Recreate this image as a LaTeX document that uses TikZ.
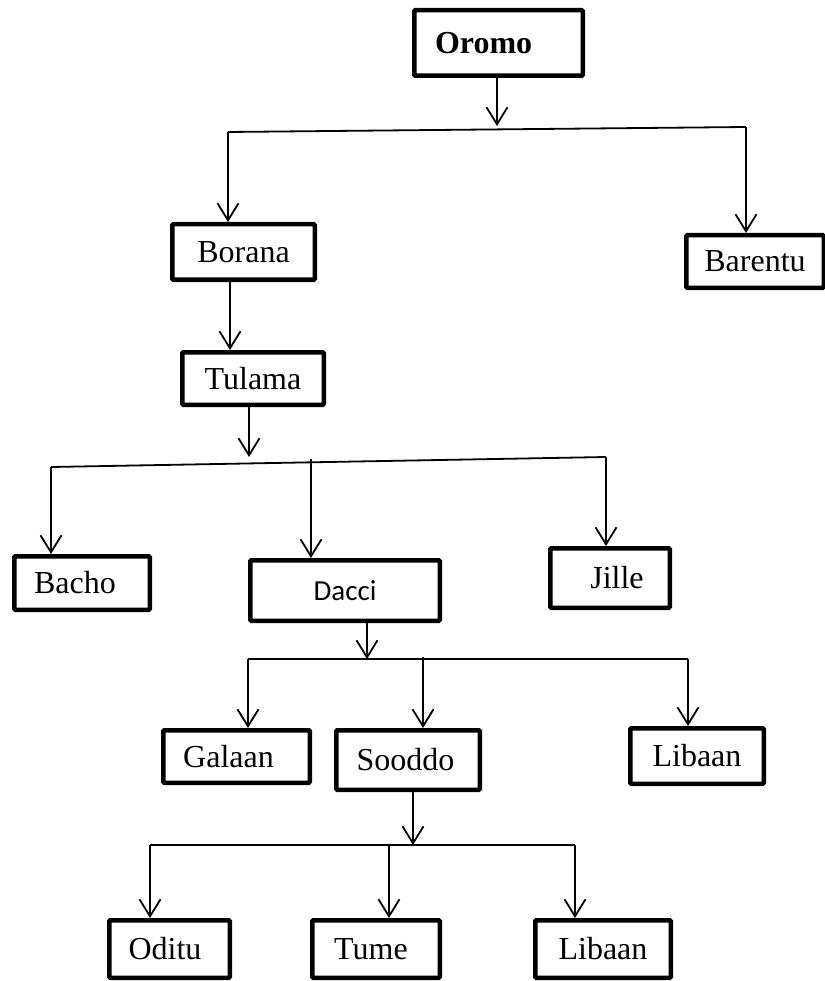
\documentclass[tikz,border=0pt]{standalone}
\usepackage{fontspec}
\setmainfont{Liberation Serif}
\newfontfamily\calfont{Carlito}
\usetikzlibrary{arrows.meta}
\begin{document}
\begin{tikzpicture}[x=1pt,y=-1pt,
  box/.style={draw, line width=4.5pt, rounded corners=1pt, inner sep=0pt, align=center,
              font=\fontsize{32}{36}\selectfont},
  conn/.style={line width=1.8pt},
  arr/.style={conn, -{Straight Barb[length=17pt,width=21pt,line width=1.8pt]}}
]
\useasboundingbox (0,0) rectangle (824,981);

% boxes
\node[box, minimum width=168.5, minimum height=65.5, text width=127pt, align=left] (oromo) at (498.5,43) {\textbf{Oromo}};
\node[box, minimum width=142.5, minimum height=55.5] (borana) at (243.5,252) {Borana};
\node[box, minimum width=137.5, minimum height=52.5] (barentu) at (755,261.5) {Barentu};
\node[box, minimum width=141.5, minimum height=52.5] (tulama) at (253,378.5) {Tulama};
\node[box, minimum width=135.5, minimum height=53.5] (bacho) at (82,583) {Bacho\hspace*{14pt}};
\node[box, minimum width=189.5, minimum height=60.5, font=\calfont\fontsize{29}{33}\selectfont] (dacci) at (345,590.5) {Dacci};
\node[box, minimum width=119.5, minimum height=59.5] (jille) at (610,578) {\hspace*{14pt}Jille};
\node[box, minimum width=146.5, minimum height=52.5] (galaan) at (236.5,756.5) {Galaan\hspace*{16pt}};
\node[box, minimum width=143.5, minimum height=59.5] (sooddo) at (408,760) {Sooddo\hspace*{5pt}};
\node[box, minimum width=133.5, minimum height=55.5] (libaanA) at (697,756) {Libaan};
\node[box, minimum width=120.5, minimum height=57.5] (oditu) at (169.5,949) {Oditu\hspace*{9pt}};
\node[box, minimum width=127.5, minimum height=57.5] (tume) at (376,949) {Tume\hspace*{10pt}};
\node[box, minimum width=135.5, minimum height=57.5] (libaanB) at (603,949) {Libaan};

% level 1
\coordinate (t1) at (497,126);
\coordinate (h1l) at (228,132);
\coordinate (h1r) at (746,127);
\draw[arr] (oromo.south -| t1) -- (t1);
\draw[conn] (h1l) -- (h1r);
\draw[arr] (h1l) -- (h1l |- borana.north);
\draw[arr] (h1r) -- (h1r |- barentu.north);

% borana -> tulama
\coordinate (bt) at (230,300);
\draw[arr] (borana.south -| bt) -- (bt |- tulama.north);

% level tulama
\coordinate (t2) at (249,457);
\coordinate (h2l) at (51,467);
\coordinate (h2r) at (606,457);
\coordinate (h2m) at (311,459);
\draw[arr] (tulama.south -| t2) -- (t2);
\draw[conn] (h2l) -- (h2r);
\draw[arr] (h2l) -- (h2l |- bacho.north);
\draw[arr] (h2m) -- (h2m |- dacci.north);
\draw[arr] (h2r) -- (h2r |- jille.north);

% level dacci
\coordinate (t3) at (367,659);
\coordinate (h3l) at (248,659);
\coordinate (h3r) at (688,659);
\coordinate (h3m) at (423,657);
\draw[arr] (dacci.south -| t3) -- (t3);
\draw[conn] (h3l) -- (h3r);
\draw[arr] (h3l) -- (h3l |- galaan.north);
\draw[arr] (h3m) -- (h3m |- sooddo.north);
\draw[arr] (h3r) -- (h3r |- libaanA.north);

% level sooddo
\coordinate (t4) at (413,845);
\coordinate (h4l) at (150,845);
\coordinate (h4r) at (575,845);
\coordinate (h4m) at (389,845);
\draw[arr] (sooddo.south -| t4) -- (t4);
\draw[conn] (h4l) -- (h4r);
\draw[arr] (h4l) -- (h4l |- oditu.north);
\draw[arr] (h4m) -- (h4m |- tume.north);
\draw[arr] (h4r) -- (h4r |- libaanB.north);
\end{tikzpicture}
\end{document}
